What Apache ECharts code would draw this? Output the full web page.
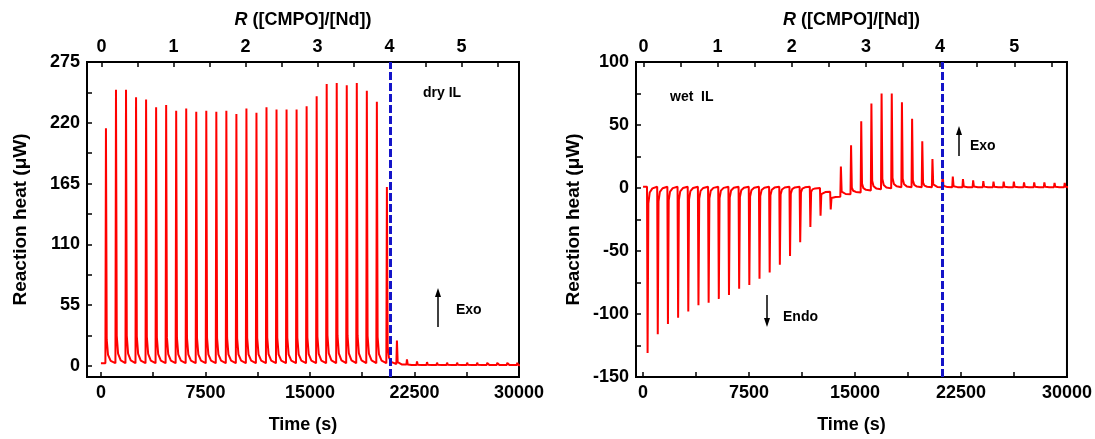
<!DOCTYPE html>
<html>
<head>
<meta charset="utf-8">
<script src="https://cdn.jsdelivr.net/npm/echarts@6/dist/echarts.min.js"></script>
<style>
html,body{margin:0;padding:0;background:#fff;}
#chart{width:1095px;height:439px;}
</style>
</head>
<body>
<div id="chart"></div>
<script>
// ---------- data ----------
// dry IL panel: injection peak times (s), peak heights (uW), baseline before each injection
const dryTimes = [360,1080,1800,2520,3240,3960,4680,5400,6120,6840,7560,8280,9000,9720,10440,11160,11880,12600,13320,14040,14760,15480,16200,16920,17640,18360,19080,19800,20520,21240,21960,22680,23400,24120,24840,25560,26280,27000,27720,28440,29160,29880];
const dryPeaks = [215,250,250,243,241,234,236,231,233,230,231,230,231,228,233,229,234,232,232,232,235,244,255,256,254,256,249,239,162,23,6,4,3.5,3,3,3,3,3,2.8,2.8,2.8,2.8];
const dryBase  = [2.5,2.5,2.5,2.5,2.5,2.5,2.5,2.5,2.5,2.5,2.5,2.5,2.5,2.5,2.5,2.5,2.5,2.5,2.5,2.5,2.5,2.5,2.5,2.5,2.5,2.5,2.5,2.5,2.5,1.8,1.2,0.8,0.8,0.8,0.8,0.8,0.8,0.8,0.8,0.8,0.8,0.8];
const dryEnd = 0.6;
const dryEquivTime = 20760;

// wet IL panel
const wetTimes = [320,1040,1760,2480,3200,3920,4640,5360,6080,6800,7520,8240,8960,9680,10400,11120,11840,12560,13280,14000,14720,15440,16160,16880,17600,18320,19040,19760,20480,21200,21920,22640,23360,24080,24800,25520,26240,26960,27680,28400,29120,29840];
const wetPeaks = [-131,-116,-108,-103,-98,-93,-91,-88,-85,-80,-77,-72,-67,-61,-54,-43,-31,-22,-17,17,34,53,67,75,75,68,55,37,23,12,9,7,6,5.5,5,5,5,4.5,4.5,4.5,4,4];
const wetBase  = [1,1,1,1,1,1,1,1,1,1,1,1,1,1,1,1,1,0,-3,-7,-5,-3.5,-2,-1,-0.3,0.6,0.6,0.6,0.6,0.6,0.6,0.6,0.6,0.6,0.6,0.6,0.6,0.6,0.6,0.6,0.6,0.6];
const wetEnd = 0.6;
const wetEquivTime = 21200;

// axis ticks / labels
const timeMajor = [0,7500,15000,22500,30000];
const timeTicks = [0,3750,7500,11250,15000,18750,22500,26250,30000];
const rMajor = [0,1,2,3,4,5];
const rTicks = [0,0.5,1,1.5,2,2.5,3,3.5,4,4.5,5,5.5];
const dryYMajor = [0,55,110,165,220,275];
const dryYTicks = [0,27.5,55,82.5,110,137.5,165,192.5,220,247.5,275];
const wetYMajor = [-150,-100,-50,0,50,100];
const wetYTicks = [-150,-125,-100,-75,-50,-25,0,25,50,75,100];

// normalised shape of one injection response (offset in s from the peak, fraction of peak height)
const pulseOffsets = [-40, 0, 55, 150, 340];
const pulseFractions = [0, 1, 0.1, 0.035, 0.01];

function buildTrace(times, peaks, base, endLevel, tEnd) {
  const pts = [[0, base[0]]];
  for (let k = 0; k < times.length; k++) {
    const b = base[k];
    const nb = k + 1 < base.length ? base[k + 1] : endLevel;
    const p = peaks[k];
    for (let j = 0; j < pulseOffsets.length; j++) {
      const t = times[k] + pulseOffsets[j];
      let v;
      if (j === 0) v = b;
      else if (j === 1) v = p;
      else v = nb + pulseFractions[j] * (p - nb);
      pts.push([t, v]);
    }
  }
  pts.push([tEnd, endLevel]);
  return pts;
}

const FONT = "'Liberation Sans', Arial, sans-serif";
const plain = v => String(v);
const chart = echarts.init(document.getElementById('chart'), null, {renderer: 'canvas'});

function timeAxis(grid, min) {
  return {
    type: 'value', gridIndex: grid, position: 'bottom', min: min, max: 30000,
    name: 'Time (s)', nameLocation: 'middle', nameGap: 39,
    nameTextStyle: {fontFamily: FONT, fontSize: 18, fontWeight: 'bold', color: '#000'},
    axisLine: {show: true, onZero: false, lineStyle: {color: '#000', width: 2}},
    axisTick: {show: true, inside: true, length: 5, customValues: timeTicks, lineStyle: {color: '#000', width: 1.5}},
    axisLabel: {customValues: timeMajor, formatter: plain, fontFamily: FONT, fontSize: 18, fontWeight: 'bold', color: '#000', margin: 7},
    splitLine: {show: false}
  };
}
function rAxis(grid, min, max) {
  return {
    type: 'value', gridIndex: grid, position: 'top', min: min, max: max,
    name: '{i|R} ([CMPO]/[Nd])', nameLocation: 'middle', nameGap: 33,
    nameTextStyle: {fontFamily: FONT, fontSize: 18, fontWeight: 'bold', color: '#000',
      rich: {i: {fontFamily: FONT, fontSize: 18, fontWeight: 'bold', fontStyle: 'italic', color: '#000'}}},
    axisLine: {show: true, onZero: false, lineStyle: {color: '#000', width: 2}},
    axisTick: {show: true, inside: true, length: 5, customValues: rTicks, lineStyle: {color: '#000', width: 1.5}},
    axisLabel: {customValues: rMajor, formatter: plain, fontFamily: FONT, fontSize: 18, fontWeight: 'bold', color: '#000', margin: 6},
    splitLine: {show: false}
  };
}
function heatAxis(grid, min, max, ticks, labels, gap) {
  return {
    type: 'value', gridIndex: grid, position: 'left', min: min, max: max,
    name: 'Reaction heat (\u03bcW)', nameLocation: 'middle', nameGap: gap, nameRotate: 90,
    nameTextStyle: {fontFamily: FONT, fontSize: 19, fontWeight: 'bold', color: '#000'},
    axisLine: {show: true, onZero: false, lineStyle: {color: '#000', width: 2}},
    axisTick: {show: true, inside: true, length: 5, customValues: ticks, lineStyle: {color: '#000', width: 1.5}},
    axisLabel: {customValues: labels, formatter: plain, fontFamily: FONT, fontSize: 18, fontWeight: 'bold', color: '#000', margin: 7},
    splitLine: {show: false}
  };
}

const dashStyle = {color: '#1414c8', width: 3, type: [8, 3]};

function arrow(x, yTail, yHead) {
  const dir = yHead < yTail ? 1 : -1;
  return [
    {type: 'line', shape: {x1: x, y1: yTail, x2: x, y2: yHead + dir * 7}, style: {stroke: '#000', lineWidth: 1.5}},
    {type: 'polygon', shape: {points: [[x, yHead], [x - 3, yHead + dir * 9], [x + 3, yHead + dir * 9]]}, style: {fill: '#000'}}
  ];
}
function label(x, y, text) {
  return {type: 'text', x: x, y: y, style: {text: text, font: 'bold 14px ' + FONT, fill: '#000', verticalAlign: 'middle', align: 'left'}};
}

const option = {
  animation: false,
  backgroundColor: '#fff',
  grid: [
    {left: 87, top: 62, width: 432, height: 317, show: true, borderColor: '#000', borderWidth: 2, backgroundColor: 'transparent', containLabel: false},
    {left: 636, top: 62, width: 433, height: 317, show: true, borderColor: '#000', borderWidth: 2, backgroundColor: 'transparent', containLabel: false}
  ],
  xAxis: [
    timeAxis(0, -1000),
    rAxis(0, -0.2, 5.8),
    timeAxis(1, -500),
    rAxis(1, -0.1, 5.71)
  ],
  yAxis: [
    heatAxis(0, -10, 275, dryYTicks, dryYMajor, 57),
    heatAxis(1, -150, 100, wetYTicks, wetYMajor, 53)
  ],
  series: [
    {
      type: 'line', xAxisIndex: 0, yAxisIndex: 0, showSymbol: false, symbol: 'none',
      data: buildTrace(dryTimes, dryPeaks, dryBase, dryEnd, 30000),
      lineStyle: {color: '#ff0000', width: 2}, sampling: null, silent: true,
      markLine: {silent: true, symbol: 'none', label: {show: false}, lineStyle: dashStyle, data: [{xAxis: dryEquivTime}]}
    },
    {
      type: 'line', xAxisIndex: 2, yAxisIndex: 1, showSymbol: false, symbol: 'none',
      data: buildTrace(wetTimes, wetPeaks, wetBase, wetEnd, 30000),
      lineStyle: {color: '#ff0000', width: 2}, sampling: null, silent: true,
      markLine: {silent: true, symbol: 'none', label: {show: false}, lineStyle: dashStyle, data: [{xAxis: wetEquivTime}]}
    }
  ],
  graphic: [
    label(423, 93, 'dry IL'),
    label(456, 310, 'Exo'),
    ...arrow(438, 327, 288),
    label(670, 97, 'wet  IL'),
    label(783, 317, 'Endo'),
    ...arrow(767, 295, 327),
    label(970, 146, 'Exo'),
    ...arrow(959, 156, 126)
  ]
};
chart.setOption(option);
</script>
</body>
</html>
